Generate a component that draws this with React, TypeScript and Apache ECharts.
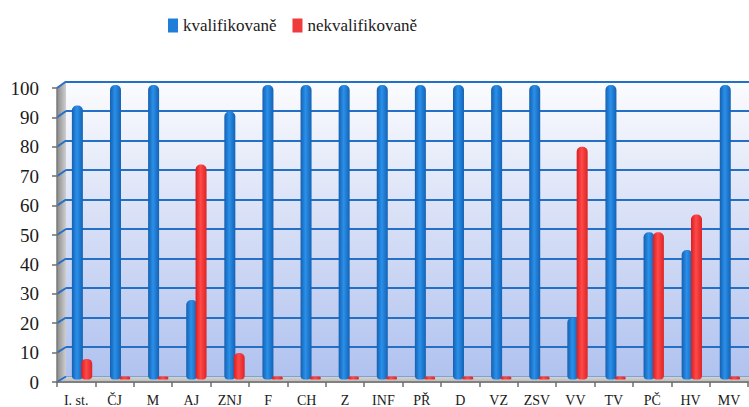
import React, { useEffect, useRef } from "react";
import * as echarts from "echarts";

const categories = ["I. st.", "ČJ", "M", "AJ", "ZNJ", "F", "CH", "Z", "INF", "PŘ", "D", "VZ", "ZSV", "VV", "TV", "PČ", "HV", "MV"];
const kvalifikovane = [93, 100, 100, 27, 91, 100, 100, 100, 100, 100, 100, 100, 100, 21, 100, 50, 44, 100];
const nekvalifikovane = [7, 0, 0, 73, 9, 0, 0, 0, 0, 0, 0, 0, 0, 79, 0, 50, 56, 0];
const yTicks = [0, 10, 20, 30, 40, 50, 60, 70, 80, 90, 100];

const FONT = "Liberation Serif";
const CAT_W = 38.4;
const PLOT_W = CAT_W * 18;
const FRONT = { left: 57, top: 88, width: PLOT_W, height: 295 };
const BACK = { left: 66, top: 81.5, width: PLOT_W, height: 295 };
const MID = { left: 63, top: 85, width: PLOT_W, height: 294.5 };
const GRID_BLUE = "#2470c6";

const cyl = (a: string, b: string, c: string) =>
  new echarts.graphic.LinearGradient(0, 0, 1, 0, [
    { offset: 0, color: a },
    { offset: 0.45, color: b },
    { offset: 1, color: c },
  ]);

export default function App() {
  const ref = useRef<HTMLDivElement>(null);
  useEffect(() => {
    if (!ref.current) return;
    const chart = echarts.init(ref.current, undefined, { renderer: "svg" });
    const yAxisBase = { type: "value", min: 0, max: 100, interval: 10 };
    chart.setOption({
      animation: false,
      backgroundColor: "#ffffff",
      textStyle: { fontFamily: FONT },
      legend: {
        left: 163,
        top: 12,
        itemWidth: 10,
        itemHeight: 14,
        itemGap: 16,
        icon: "rect",
        textStyle: { fontFamily: FONT, fontSize: 17, color: "#1a1a1a" },
        data: [
          { name: "kvalifikovaně", itemStyle: { color: "#1f7fd8" } },
          { name: "nekvalifikovaně", itemStyle: { color: "#ef3b3b" } },
        ],
      },
      grid: [
        { ...FRONT, containLabel: false },
        {
          ...BACK,
          containLabel: false,
          show: true,
          borderWidth: 0,
          backgroundColor: new echarts.graphic.LinearGradient(0, 0, 0, 1, [
            { offset: 0, color: "#fbfcfe" },
            { offset: 0.5, color: "#d6def6" },
            { offset: 1, color: "#b0c2ef" },
          ]),
        },
        { ...MID, containLabel: false },
      ],
      xAxis: [
        {
          type: "category",
          gridIndex: 0,
          data: categories,
          boundaryGap: true,
          axisLine: { show: true, lineStyle: { color: "#6e6e6e", width: 1.5 } },
          axisTick: { show: true, length: 5, lineStyle: { color: "#6e6e6e", width: 1.5 } },
          axisLabel: { fontFamily: FONT, fontSize: 14, color: "#1a1a1a", margin: 11, interval: 0 },
          z: 6,
        },
        { type: "category", gridIndex: 1, data: categories, show: false },
        { type: "category", gridIndex: 2, data: categories, show: false },
      ],
      yAxis: [
        {
          ...yAxisBase,
          gridIndex: 0,
          axisLine: { show: true, lineStyle: { color: "#7a7a7a", width: 1.5 } },
          axisTick: { show: true, length: 5, lineStyle: { color: "#6e6e6e", width: 1.5 } },
          axisLabel: { fontFamily: FONT, fontSize: 19, color: "#1a1a1a", margin: 18 },
          splitLine: { show: false },
          z: 6,
        },
        {
          ...yAxisBase,
          gridIndex: 1,
          axisLine: { show: false },
          axisTick: { show: false },
          axisLabel: { show: false },
          splitLine: { show: true, lineStyle: { color: GRID_BLUE, width: 2 } },
        },
        { ...yAxisBase, gridIndex: 2, show: false, splitLine: { show: false } },
      ],
      series: [
        {
          name: "kvalifikovaně",
          type: "bar",
          xAxisIndex: 2,
          yAxisIndex: 2,
          data: kvalifikovane,
          barWidth: 11,
          barGap: "-15%",
          barMinHeight: 3,
          z: 5,
          itemStyle: { color: cyl("#1560b0", "#2a90ea", "#1462b4"), borderRadius: [5, 5, 4, 4] },
        },
        {
          name: "nekvalifikovaně",
          type: "bar",
          xAxisIndex: 2,
          yAxisIndex: 2,
          data: nekvalifikovane,
          barWidth: 11,
          barGap: "-15%",
          barMinHeight: 3,
          z: 5,
          itemStyle: { color: cyl("#d81e22", "#ff4a48", "#dc2426"), borderRadius: [5, 5, 4, 4] },
        },
      ],
    });

    const fx0 = FRONT.left;
    const bx0 = BACK.left;
    const fyBottom = FRONT.top + FRONT.height;
    const byBottom = BACK.top + BACK.height;
    const diagonals = yTicks.map((v) => {
      const yf = chart.convertToPixel({ yAxisIndex: 0 }, v) as number;
      const yb = chart.convertToPixel({ yAxisIndex: 1 }, v) as number;
      return {
        type: "line",
        z: 3,
        shape: { x1: fx0, y1: yf, x2: bx0, y2: yb },
        style: { stroke: GRID_BLUE, lineWidth: 2 },
      };
    });
    chart.setOption({
      graphic: [
        {
          type: "polygon",
          z: 2,
          shape: { points: [[fx0, FRONT.top], [bx0, BACK.top], [bx0, byBottom], [fx0, fyBottom]] },
          style: {
            fill: new echarts.graphic.LinearGradient(0, 0, 1, 0, [
              { offset: 0, color: "#8a8a8a" },
              { offset: 1, color: "#cfcfcf" },
            ]),
          },
        },
        {
          type: "polygon",
          z: 2,
          shape: {
            points: [
              [fx0, fyBottom],
              [bx0, byBottom],
              [bx0 + PLOT_W, byBottom],
              [fx0 + PLOT_W, fyBottom],
            ],
          },
          style: {
            fill: new echarts.graphic.LinearGradient(0, 0, 0, 1, [
              { offset: 0, color: "#d6d6d6" },
              { offset: 1, color: "#b4b4b4" },
            ]),
          },
        },
        ...diagonals,
      ],
    });
    return () => chart.dispose();
  }, []);
  return <div ref={ref} style={{ width: 749, height: 407, position: "absolute", left: 0, top: 0 }} />;
}
